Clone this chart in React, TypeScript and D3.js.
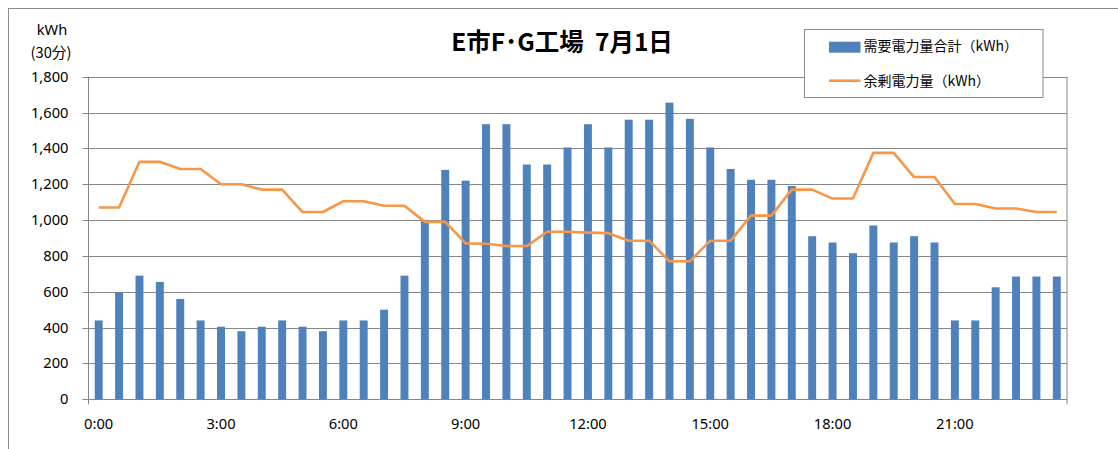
import React from "react";
import * as d3 from "d3";

const categories: string[] = Array.from({ length: 48 }, (_, i) => `${Math.floor(i / 2)}:${i % 2 === 0 ? "00" : "30"}`);

const demand: number[] = [
  440, 595, 690, 655, 560, 440, 405, 380, 405, 440, 405, 380,
  440, 440, 500, 690, 1000, 1280, 1220, 1535, 1535, 1310, 1310, 1405,
  1535, 1405, 1560, 1560, 1655, 1565, 1405, 1285, 1225, 1225, 1190, 910,
  875, 815, 970, 875, 910, 875, 440, 440, 625, 685, 685, 685,
];

const surplus: number[] = [
  1070, 1070, 1325, 1325, 1285, 1285, 1200, 1200, 1170, 1170, 1045, 1045,
  1105, 1105, 1080, 1080, 990, 990, 870, 868, 855, 855, 935, 935,
  930, 927, 885, 885, 770, 770, 885, 885, 1025, 1025, 1170, 1170,
  1120, 1120, 1375, 1375, 1240, 1240, 1090, 1090, 1065, 1065, 1045, 1045,
];

const yTicks: number[] = [0, 200, 400, 600, 800, 1000, 1200, 1400, 1600, 1800];
const xTickLabels: string[] = ["0:00", "3:00", "6:00", "9:00", "12:00", "15:00", "18:00", "21:00"];

const title = "E市F･G工場  7月1日";
const seriesNames = ["需要電力量合計（kWh）", "余剰電力量（kWh）"];

const BAR = "#4F81BD";
const LINE = "#F79646";
const GRID = "#868686";
const FONT = "'Noto Sans', 'Noto Sans CJK JP', sans-serif";
const JFONT = "'Noto Sans CJK JP', 'Noto Sans', sans-serif";

export default function App() {
  const left = 88.5, right = 1067, top = 76.7, bottom = 399.3;
  const x = d3.scaleBand<number>().domain(d3.range(categories.length)).range([left, right]).padding(0);
  const y = d3.scaleLinear().domain([0, 1800]).range([bottom, top]);
  const bw = x.bandwidth() * 0.39;
  const cx = (i: number) => (x(i) as number) + x.bandwidth() / 2;
  const line = d3.line<number>().x((_, i) => cx(i)).y((d) => y(d));

  return (
    <svg width={1118} height={449} style={{ position: "absolute", left: 0, top: 0, background: "#fff" }}>
      <rect x={8.5} y={8.5} width={1200} height={600} fill="#fff" stroke="#8c8c8c" strokeWidth={1} />
      {yTicks.map((t) => (
        <g key={t}>
          <line x1={left - 6} x2={right} y1={Math.round(y(t)) + 0.5} y2={Math.round(y(t)) + 0.5} stroke={GRID} strokeWidth={1} />
          <text x={68.5} y={y(t) + 5} textAnchor="end" fontFamily={FONT} fontSize={14.7} fill="#000">
            {d3.format(",")(t)}
          </text>
        </g>
      ))}
      <line x1={left} x2={left} y1={top} y2={bottom + 5} stroke={GRID} strokeWidth={1} />
      <line x1={right} x2={right} y1={top} y2={bottom + 5} stroke={GRID} strokeWidth={1} />
      {demand.map((v, i) => (
        <rect key={i} x={cx(i) - bw / 2} y={y(v)} width={bw} height={y(0) - y(v)} fill={BAR} />
      ))}
      <path d={line(surplus) || ""} fill="none" stroke={LINE} strokeWidth={2.6} strokeLinejoin="round" />
      {xTickLabels.map((lab, k) => (
        <text key={lab} x={cx(k * 6)} y={429} textAnchor="middle" fontFamily={FONT} fontSize={14.7} fill="#000">
          {lab}
        </text>
      ))}
      <text x={52} y={35} textAnchor="middle" fontFamily={FONT} fontSize={14.7} fill="#000">kWh</text>
      <text x={51} y={58} textAnchor="middle" fontFamily={JFONT} fontSize={14.7} fill="#000">(30分)</text>
      <text x={562} y={51} textAnchor="middle" fontFamily={JFONT} fontSize={24.5} fontWeight="bold" fill="#000" style={{ whiteSpace: "pre" }}>
        {title}
      </text>
      <rect x={804.5} y={29.5} width={238.5} height={68} fill="#fff" stroke="#8c8c8c" strokeWidth={1} />
      <rect x={829} y={41.7} width={31.5} height={11} fill={BAR} />
      <text x={863.5} y={51} fontFamily={JFONT} fontSize={14} fill="#000">{seriesNames[0]}</text>
      <line x1={829} x2={860.5} y1={80.7} y2={80.7} stroke={LINE} strokeWidth={2.6} />
      <text x={863.5} y={85.5} fontFamily={JFONT} fontSize={14} fill="#000">{seriesNames[1]}</text>
    </svg>
  );
}
